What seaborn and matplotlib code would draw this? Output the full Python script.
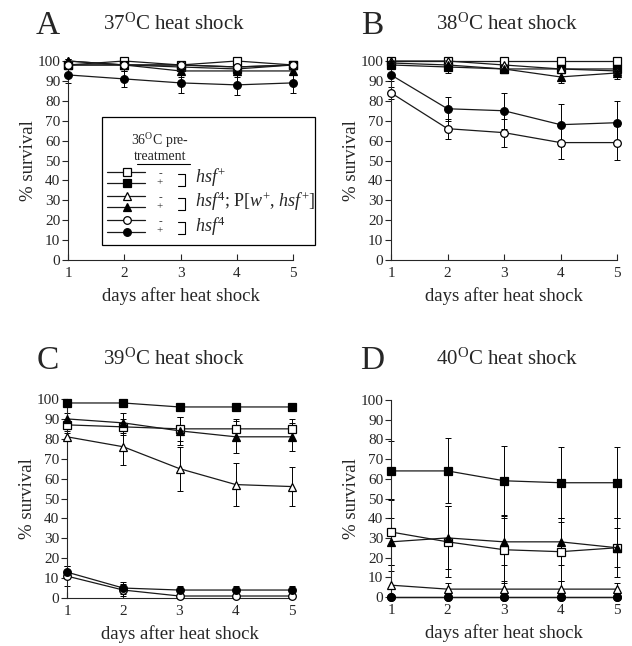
import matplotlib
matplotlib.use("Agg")
import matplotlib.pyplot as plt
from matplotlib.lines import Line2D
from matplotlib.patches import Rectangle
import seaborn as sns

# ---------------------------------------------------------------
# data (mean % survival and error bar half-length per day)
# series order: hsf+ -, hsf+ +, rescue -, rescue +, hsf4 -, hsf4 +
# ---------------------------------------------------------------
DAYS = [1, 2, 3, 4, 5]
YTICKS = list(range(0, 101, 10))

A_MEAN = [[98, 100, 98, 100, 98],
          [98, 98, 97, 96, 98],
          [100, 98, 98, 97, 98],
          [100, 98, 95, 95, 95],
          [98, 98, 98, 97, 98],
          [93, 91, 89, 88, 89]]
A_ERR = [[1, 1, 1, 1, 1],
         [1, 2, 2, 2, 1],
         [1, 2, 2, 2, 1],
         [1, 3, 3, 3, 2],
         [1, 1, 1, 1, 1],
         [4, 4, 5, 5, 5]]

B_MEAN = [[100, 100, 100, 100, 100],
          [98, 97, 96, 96, 96],
          [100, 100, 98, 96, 95],
          [99, 98, 96, 92, 94],
          [84, 66, 64, 59, 59],
          [93, 76, 75, 68, 69]]
B_ERR = [[1, 1, 1, 1, 1],
         [1, 3, 2, 2, 3],
         [1, 1, 2, 2, 2],
         [1, 2, 2, 3, 3],
         [3, 5, 7, 8, 8.5],
         [3, 6, 9, 10.5, 11]]

C_MEAN = [[87, 86, 85, 85, 85],
          [98, 98, 96, 96, 96],
          [81, 76, 65, 57, 56],
          [90, 88, 84, 81, 81],
          [11, 4, 1, 1, 1],
          [13, 5, 4, 4, 4]]
C_ERR = [[3, 4, 6, 5, 5],
         [0.5, 0.5, 0.5, 0.5, 0.5],
         [2, 9, 11, 11, 10],
         [3, 5, 7, 8, 7],
         [5, 3, 1, 1, 1],
         [3, 3, 2, 2, 2]]

D_MEAN = [[33, 28, 24, 23, 25],
          [64, 64, 59, 58, 58],
          [6, 4, 4, 4, 4],
          [28, 30, 28, 28, 25],
          [0, 0, 0, 0, 0],
          [0, 0, 0, 0, 0]]
D_ERR = [[17, 18, 17, 15, 15],
         [15, 16.5, 17.5, 18, 18],
         [7, 3, 4, 4, 3],
         [12, 16, 12, 12, 10],
         [0, 0, 0, 0, 0],
         [0, 0, 0, 0, 0]]

PANEL_LETTERS = ["A", "B", "C", "D"]
PANEL_TITLES = ["37$^{\\mathrm{O}}$C heat shock", "38$^{\\mathrm{O}}$C heat shock",
                "39$^{\\mathrm{O}}$C heat shock", "40$^{\\mathrm{O}}$C heat shock"]
TREATMENT = ["-", "+", "-", "+", "-", "+"]
GENOTYPES = ["$\\mathit{hsf}^{+}$",
             "$\\mathit{hsf}^{4}$; P[$\\mathit{w}^{+}$, $\\mathit{hsf}^{+}$]",
             "$\\mathit{hsf}^{4}$"]

MARKERS = ["s", "s", "^", "^", "o", "o"]
FACES = ["white", "black", "white", "black", "white", "black"]

# ---------------------------------------------------------------
# style
# ---------------------------------------------------------------
sns.set_theme(style="ticks")
plt.rcParams["font.family"] = ["Liberation Serif", "DejaVu Serif"]
plt.rcParams["mathtext.fontset"] = "custom"
plt.rcParams["mathtext.rm"] = "Liberation Serif"
plt.rcParams["mathtext.it"] = "Liberation Serif:italic"
plt.rcParams["axes.linewidth"] = 0.8

W, H = 632, 646
fig = plt.figure(figsize=(W / 100, H / 100), dpi=100)


def px(x, y):
    return x / W, 1 - y / H


# axes boxes in pixel coords: left, top, right, bottom
boxes = [(68, 61, 293, 260), (391, 61, 617, 260),
         (67, 399, 292, 598), (391, 400, 617, 597)]
means = [A_MEAN, B_MEAN, C_MEAN, D_MEAN]
errs = [A_ERR, B_ERR, C_ERR, D_ERR]

for i, (l, t, r, b) in enumerate(boxes):
    ax = fig.add_axes([l / W, 1 - b / H, (r - l) / W, (b - t) / H])
    for k in range(6):
        eb = ax.errorbar(DAYS, means[i][k], yerr=errs[i][k], fmt="none",
                         ecolor="black", elinewidth=0.7, capsize=2.2,
                         capthick=0.7, zorder=2)
        for art in eb.get_children():
            art.set_clip_on(False)
        sns.lineplot(x=DAYS, y=means[i][k], ax=ax, color="#1a1a1a",
                     linewidth=0.9, marker=MARKERS[k], markersize=5.5,
                     markerfacecolor=FACES[k], markeredgecolor="black",
                     markeredgewidth=0.9, clip_on=False, zorder=3)
    ax.set_xlim(1, 5)
    ax.set_ylim(0, 100)
    ax.set_xticks(DAYS)
    ax.set_yticks(YTICKS)
    ax.tick_params(axis="y", direction="out", length=4, width=0.8,
                   labelsize=11, pad=1.5)
    ax.tick_params(axis="x", direction="in", length=4, width=0.8,
                   labelsize=11, pad=5)
    ax.set_xlabel("days after heat shock", fontsize=13.5, labelpad=5)
    ax.set_ylabel("% survival", fontsize=13.5, labelpad=0)
    ax.set_facecolor("white")
    sns.despine(ax=ax)

    # panel letter and title
    base = 34 if i < 2 else 369
    lx = 48 if i % 2 == 0 else 372
    tx = 174 if i % 2 == 0 else 507
    fig.text(*px(lx, base), PANEL_LETTERS[i], fontsize=24,
             ha="center", va="baseline")
    fig.text(*px(tx, base - 4), PANEL_TITLES[i], fontsize=15,
             ha="center", va="baseline")

# ---------------------------------------------------------------
# legend (drawn by hand inside panel A)
# ---------------------------------------------------------------
fig.add_artist(Rectangle(px(102, 245), 213 / W, 128 / H, transform=fig.transFigure,
                         facecolor="white", edgecolor="black", linewidth=0.9,
                         zorder=5))
fig.text(*px(160, 145), "36$^{\\mathrm{O}}$C pre-", fontsize=10,
         ha="center", va="baseline", zorder=6)
fig.text(*px(160, 160), "treatment", fontsize=10,
         ha="center", va="baseline", zorder=6)
fig.add_artist(Line2D([137 / W, 190 / W], [1 - 164 / H] * 2, color="black",
                      linewidth=0.8, transform=fig.transFigure, zorder=6))

row_y = [172, 183, 196, 207, 220, 232]
for k, y in enumerate(row_y):
    fx, fy = px(0, y)
    fig.add_artist(Line2D([107 / W, 145 / W], [fy, fy], color="#1a1a1a",
                          linewidth=0.9, transform=fig.transFigure, zorder=6))
    fig.add_artist(Line2D([127 / W], [fy], marker=MARKERS[k], markersize=5.5,
                          markerfacecolor=FACES[k], markeredgecolor="black",
                          markeredgewidth=0.9, transform=fig.transFigure,
                          zorder=7))

for g in range(3):
    mid = (row_y[2 * g] + row_y[2 * g + 1]) / 2 + 2
    # "-" over "+" for each genotype pair, in one text
    fig.text(*px(160, mid - 1.5), TREATMENT[2 * g] + "\n" + TREATMENT[2 * g + 1],
             fontsize=8, linespacing=1.0, ha="center", va="center", zorder=6)
    top, bot = mid - 6, mid + 6
    xs = [178 / W, 185 / W, 185 / W, 178 / W]
    ys = [1 - top / H, 1 - top / H, 1 - bot / H, 1 - bot / H]
    fig.add_artist(Line2D(xs, ys, color="black", linewidth=0.8,
                          transform=fig.transFigure, zorder=6))
    fig.text(*px(195, mid - 2), GENOTYPES[g], fontsize=13, ha="left",
             va="center", zorder=6)

fig.savefig("out.png", dpi=100, facecolor="white")
